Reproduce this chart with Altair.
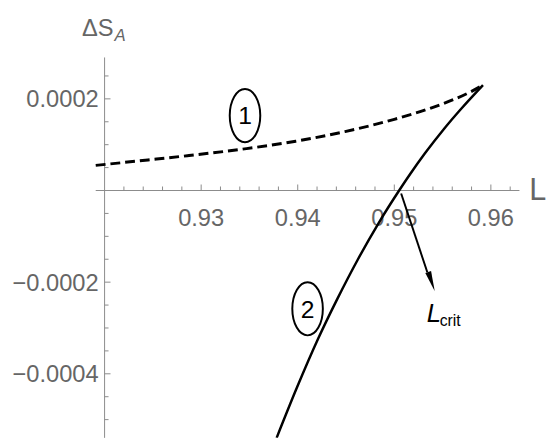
import altair as alt
import pandas as pd

# ---- data ----
# curve 1 (dashed)
L1 = [0.919082, 0.924490, 0.928571, 0.934694, 0.939796, 0.944898, 0.950000, 0.954082, 0.956122, 0.957857, 0.959184]
S1 = [0.00005484, 0.00006667, 0.00007591, 0.0000914, 0.00010753, 0.00012849, 0.00015538, 0.00018204, 0.00019839, 0.00021484, 0.00023011]
# curve 2 (solid)
L2 = [0.937816, 0.939918, 0.942133, 0.944102, 0.946224, 0.948378, 0.950500, 0.951663, 0.953194, 0.955184, 0.956929, 0.959184]
S2 = [-0.00053978, -0.00043011, -0.00032258, -0.00023656, -0.00015054, -0.00007097, 0.0, 0.00003656, 0.00008172, 0.00013548, 0.00017849, 0.00023011]

x_domain = [0.91908, 0.96296]
y_domain = [-0.00053978, 0.00029032]
axis_x_at = 0.92   # where the vertical axis crosses
axis_y_at = 0.0    # where the horizontal axis crosses

x_major = [0.93, 0.94, 0.95, 0.96]
x_labels = ["0.93", "0.94", "0.95", "0.96"]
x_minor = [0.922, 0.924, 0.926, 0.928, 0.932, 0.934, 0.936, 0.938, 0.942, 0.944,
           0.946, 0.948, 0.952, 0.954, 0.956, 0.958, 0.962]
y_major = [0.0002, -0.0002, -0.0004]
y_labels = ["0.0002", "\u22120.0002", "\u22120.0004"]
y_minor = [0.00025, 0.00015, 0.0001, 0.00005, -0.00005, -0.0001, -0.00015,
           -0.00025, -0.0003, -0.00035, -0.00045, -0.0005]

# annotations (data coordinates)
circle_text = ["1", "2"]
circle_L = [0.93454, 0.94102]
circle_S = [0.00016344, -0.00025806]
arrow_L = [0.95071, 0.95342]
arrow_S = [-0.0000065, -0.0001785]
arrowhead_L = [0.95385]
arrowhead_S = [-0.0001989]

FONT = "Liberation Sans, Arial, sans-serif"
GRAY_LINE = "#8a8a8a"
GRAY_TEXT = "#666666"

xs = alt.Scale(domain=x_domain, nice=False, zero=False)
ys = alt.Scale(domain=y_domain, nice=False, zero=False)


def X(f):
    return alt.X(f"{f}:Q", scale=xs, axis=None)


def Y(f):
    return alt.Y(f"{f}:Q", scale=ys, axis=None)


layers = []

# axis lines
df_ax = pd.DataFrame({"x": [x_domain[0]], "x2": [x_domain[1]], "y": [axis_y_at]})
layers.append(alt.Chart(df_ax).mark_rule(color=GRAY_LINE, strokeWidth=1).encode(
    x=X("x"), x2="x2:Q", y=Y("y")))
df_ay = pd.DataFrame({"x": [axis_x_at], "y": [y_domain[0]], "y2": [y_domain[1]]})
layers.append(alt.Chart(df_ay).mark_rule(color=GRAY_LINE, strokeWidth=1).encode(
    x=X("x"), y=Y("y"), y2="y2:Q"))

# x ticks (pointing up)
df_xM = pd.DataFrame({"x": x_major, "y": [axis_y_at] * len(x_major), "t": x_labels})
df_xm = pd.DataFrame({"x": x_minor, "y": [axis_y_at] * len(x_minor)})
layers.append(alt.Chart(df_xM).mark_tick(orient="vertical", size=6, thickness=1, yOffset=-3,
                                          color=GRAY_LINE, opacity=1).encode(x=X("x"), y=Y("y")))
layers.append(alt.Chart(df_xm).mark_tick(orient="vertical", size=4, thickness=1, yOffset=-2,
                                          color=GRAY_LINE, opacity=1).encode(x=X("x"), y=Y("y")))
layers.append(alt.Chart(df_xM).mark_text(font=FONT, fontSize=24, color=GRAY_TEXT, align="center",
                                          baseline="alphabetic", dy=36).encode(
    x=X("x"), y=Y("y"), text="t:N"))

# y ticks (pointing right)
df_yM = pd.DataFrame({"x": [axis_x_at] * len(y_major), "y": y_major, "t": y_labels})
df_ym = pd.DataFrame({"x": [axis_x_at] * len(y_minor), "y": y_minor})
layers.append(alt.Chart(df_yM).mark_tick(orient="horizontal", size=6, thickness=1, xOffset=3,
                                          color=GRAY_LINE, opacity=1).encode(x=X("x"), y=Y("y")))
layers.append(alt.Chart(df_ym).mark_tick(orient="horizontal", size=4, thickness=1, xOffset=2,
                                          color=GRAY_LINE, opacity=1).encode(x=X("x"), y=Y("y")))
layers.append(alt.Chart(df_yM).mark_text(font=FONT, fontSize=24, color=GRAY_TEXT, align="right",
                                          baseline="alphabetic", dx=-6, dy=8.5).encode(
    x=X("x"), y=Y("y"), text="t:N"))

# axis titles
df_lab = pd.DataFrame({"x": [0.96398], "y": [-0.0000215], "t": ["L"]})
layers.append(alt.Chart(df_lab).mark_text(font=FONT, fontSize=31, color=GRAY_TEXT, align="left",
                                           baseline="alphabetic").encode(x=X("x"), y=Y("y"), text="t:N"))
df_ds = pd.DataFrame({"x": [0.917653], "y": [0.00033763], "t": ["\u0394S"]})
layers.append(alt.Chart(df_ds).mark_text(font=FONT, fontSize=24, color=GRAY_TEXT, align="left",
                                          baseline="alphabetic").encode(x=X("x"), y=Y("y"), text="t:N"))
df_a = pd.DataFrame({"x": [0.921020], "y": [0.00032688], "t": ["A"]})
layers.append(alt.Chart(df_a).mark_text(font=FONT, fontSize=17, fontStyle="italic", color=GRAY_TEXT,
                                         align="left", baseline="alphabetic").encode(
    x=X("x"), y=Y("y"), text="t:N"))

# curves
df1 = pd.DataFrame({"L": L1, "S": S1})
df2 = pd.DataFrame({"L": L2, "S": S2})
layers.append(alt.Chart(df1).mark_line(color="black", strokeWidth=3, strokeDash=[10, 5],
                                        interpolate="monotone").encode(x=X("L"), y=Y("S"), order="L:Q"))
layers.append(alt.Chart(df2).mark_line(color="black", strokeWidth=2.5,
                                        interpolate="monotone", clip=True).encode(x=X("L"), y=Y("S"), order="L:Q"))

# circled labels
ELLIPSE = "M -0.574,0 A 0.574,1 0 1,1 0.574,0 A 0.574,1 0 1,1 -0.574,0 Z"
df_c = pd.DataFrame({"x": circle_L, "y": circle_S, "t": circle_text})
layers.append(alt.Chart(df_c).mark_point(shape=ELLIPSE, size=2916, filled=False, stroke="black",
                                          strokeWidth=2, opacity=1).encode(x=X("x"), y=Y("y")))
layers.append(alt.Chart(df_c).mark_text(font=FONT, fontSize=25, color="black", align="center",
                                         baseline="alphabetic", dy=9).encode(x=X("x"), y=Y("y"), text="t:N"))

# arrow to L_crit
df_arr = pd.DataFrame({"x": [arrow_L[0]], "x2": [arrow_L[1]], "y": [arrow_S[0]], "y2": [arrow_S[1]]})
layers.append(alt.Chart(df_arr).mark_rule(color="black", strokeWidth=2).encode(
    x=X("x"), x2="x2:Q", y=Y("y"), y2="y2:Q"))
HEAD = "M 0,1 L -0.3,-1 L 0.3,-1 Z"
df_head = pd.DataFrame({"x": arrowhead_L, "y": arrowhead_S})
layers.append(alt.Chart(df_head).mark_point(shape=HEAD, size=420, filled=True, color="black",
                                             angle=341, opacity=1).encode(x=X("x"), y=Y("y")))
df_lc = pd.DataFrame({"x": [0.953367], "y": [-0.00028602], "t": ["L"]})
layers.append(alt.Chart(df_lc).mark_text(font=FONT, fontSize=26, fontStyle="italic", color="black",
                                          align="left", baseline="alphabetic").encode(
    x=X("x"), y=Y("y"), text="t:N"))
df_crit = pd.DataFrame({"x": [0.954694], "y": [-0.00029462], "t": ["crit"]})
layers.append(alt.Chart(df_crit).mark_text(font=FONT, fontSize=16, color="black",
                                            align="left", baseline="alphabetic").encode(
    x=X("x"), y=Y("y"), text="t:N"))

chart = alt.layer(*layers).properties(
    width=430, height=386,
    autosize=alt.AutoSizeParams(type="none"),
    padding={"left": 89, "top": 47, "right": 31, "bottom": 0},
    background="white",
).configure_view(stroke=None)

chart.save("out.html", embed_options={"renderer": "svg", "actions": False})
